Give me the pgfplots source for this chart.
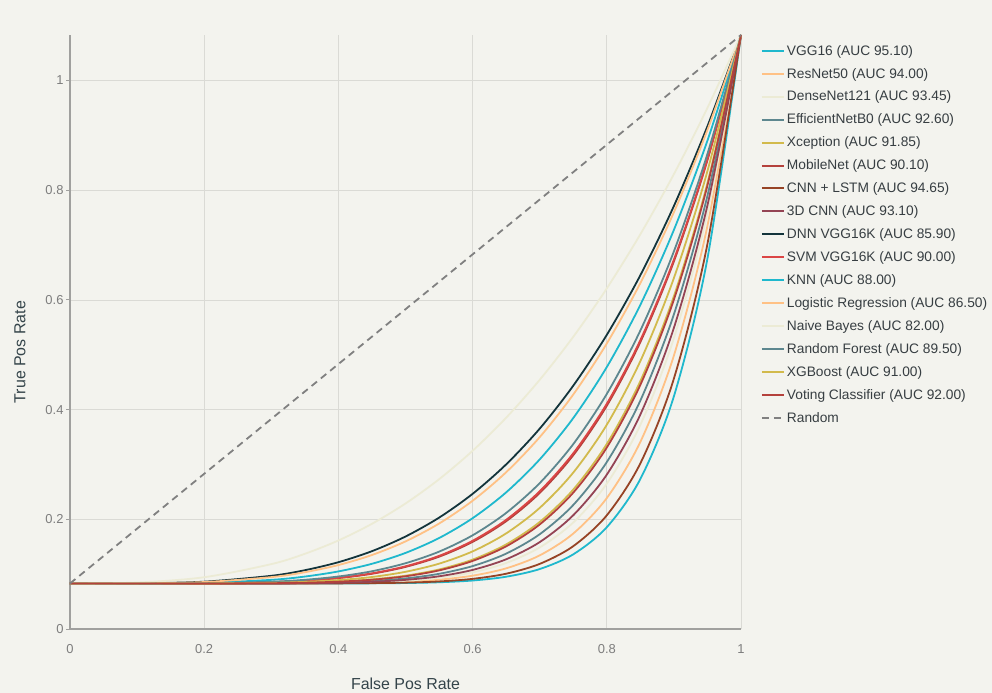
\documentclass[border=0pt]{standalone}
\usepackage{fontspec}
\setmainfont{Liberation Sans}
\usepackage{pgfplots}
\pgfplotsset{compat=1.18}
\definecolor{bgcol}{RGB}{243,243,238}
\definecolor{gridcol}{RGB}{218,218,213}
\definecolor{axcol}{RGB}{160,160,158}
\definecolor{tickcol}{RGB}{125,125,125}
\definecolor{labcol}{RGB}{52,68,74}
\definecolor{legcol}{RGB}{55,62,66}
\definecolor{c1}{HTML}{1FB8CD}
\definecolor{c2}{HTML}{FFC185}
\definecolor{c3}{HTML}{ECEBD5}
\definecolor{c4}{HTML}{5D878F}
\definecolor{c5}{HTML}{D2BA4C}
\definecolor{c6}{HTML}{B4413C}
\definecolor{c7}{HTML}{964325}
\definecolor{c8}{HTML}{944454}
\definecolor{c9}{HTML}{13343B}
\definecolor{c10}{HTML}{DB4545}
\begin{document}
\begin{tikzpicture}
\fill[bgcol] (-70bp,-64bp) rectangle (922bp,629bp);
\begin{axis}[
  scale only axis, width=671bp, height=594bp,
  at={(0,0)}, anchor=south west,
  xmin=0, xmax=1, ymin=0, ymax=1.083,
  xtick={0,0.2,0.4,0.6,0.8,1}, ytick={0,0.2,0.4,0.6,0.8,1},
  axis lines*=left, axis line style={axcol, line width=1.2bp, -},
  grid=major, grid style={gridcol, line width=0.8bp},
  x tick style={draw=none}, y tick style={axcol, line width=1bp},
  tick align=outside, major tick length=4bp,
  tick label style={tickcol, font=\fontsize{13}{15}\selectfont},
  /pgf/number format/assume math mode=true,
  xticklabel style={yshift=-8bp},
  yticklabel style={xshift=1bp},
  xlabel={False Pos Rate}, ylabel={True Pos Rate},
  label style={labcol, font=\fontsize{16}{18}\selectfont},
  xlabel style={at={(axis description cs:0.5,0)}, anchor=north, inner sep=0pt, yshift=-49bp},
  ylabel style={at={(axis description cs:-0.0745,0.466)}, anchor=center, inner sep=0pt},
  clip=false,
  every axis plot/.append style={line width=1.8bp, smooth},
  legend cell align=left,
  legend style={at={(1.025,0.99)}, anchor=north west, draw=none, fill=none,
    font=\fontsize{13.8}{16}\selectfont, text=legcol, row sep=7.5bp},
  legend image code/.code={\draw[#1, line width=2bp, sharp plot] (0bp,0bp) -- (22bp,0bp);},
]
% VGG16
\addplot[c1] coordinates {(0,0.083) (0.4,0.083) (0.45,0.0833) (0.5,0.0838) (0.55,0.0852) (0.6,0.0884) (0.65,0.0953) (0.7,0.1093) (0.75,0.1361) (0.8,0.1856) (0.85,0.2735) (0.9,0.4243) (0.95,0.6755) (1,1.083)};
\addlegendentry{VGG16 (AUC 95.10)}
% ResNet50
\addplot[c2] coordinates {(0,0.083) (0.3,0.083) (0.4,0.0835) (0.45,0.0843) (0.5,0.0861) (0.55,0.0899) (0.6,0.0972) (0.65,0.1106) (0.7,0.1342) (0.75,0.1740) (0.8,0.2388) (0.85,0.3411) (0.9,0.4986) (0.95,0.7352) (1,1.083)};
\addlegendentry{ResNet50 (AUC 94.00)}
% DenseNet121
\addplot[c3] coordinates {(0,0.083) (0.3,0.083) (0.4,0.0839) (0.45,0.0853) (0.5,0.0880) (0.55,0.0934) (0.6,0.1032) (0.65,0.1203) (0.7,0.1487) (0.75,0.1942) (0.8,0.2651) (0.85,0.3722) (0.9,0.5304) (0.95,0.7590) (1,1.083)};
\addlegendentry{DenseNet121 (AUC 93.45)}
% EfficientNetB0
\addplot[c4] coordinates {(0,0.083) (0.3,0.083) (0.4,0.0850) (0.45,0.0875) (0.5,0.0922) (0.55,0.1006) (0.6,0.1147) (0.65,0.1374) (0.7,0.1728) (0.75,0.2261) (0.8,0.3044) (0.85,0.4165) (0.9,0.5737) (0.95,0.7901) (1,1.083)};
\addlegendentry{EfficientNetB0 (AUC 92.60)}
% Xception
\addplot[c5] coordinates {(0,0.083) (0.2,0.083) (0.3,0.0836) (0.35,0.0846) (0.4,0.0866) (0.45,0.0905) (0.5,0.0972) (0.55,0.1085) (0.6,0.1265) (0.65,0.1542) (0.7,0.1951) (0.75,0.2542) (0.8,0.3374) (0.85,0.4520) (0.9,0.6069) (0.95,0.8130) (1,1.083)};
\addlegendentry{Xception (AUC 91.85)}
% MobileNet
\addplot[c6] coordinates {(0,0.083) (0.1,0.083) (0.2,0.0833) (0.3,0.0853) (0.35,0.0880) (0.4,0.0928) (0.45,0.1007) (0.5,0.1132) (0.55,0.1318) (0.6,0.1588) (0.65,0.1965) (0.7,0.2480) (0.75,0.3168) (0.8,0.4070) (0.85,0.5231) (0.9,0.6703) (0.95,0.8548) (1,1.083)};
\addlegendentry{MobileNet (AUC 90.10)}
% CNN + LSTM
\addplot[c7] coordinates {(0,0.083) (0.3,0.083) (0.4,0.0832) (0.45,0.0836) (0.5,0.0845) (0.55,0.0867) (0.6,0.0914) (0.65,0.1008) (0.7,0.1187) (0.75,0.1510) (0.8,0.2073) (0.85,0.3020) (0.9,0.4566) (0.95,0.7022) (1,1.083)};
\addlegendentry{CNN + LSTM (AUC 94.65)}
% 3D CNN
\addplot[c8] coordinates {(0,0.083) (0.3,0.083) (0.4,0.0843) (0.45,0.0861) (0.5,0.0896) (0.55,0.0961) (0.6,0.1077) (0.65,0.1271) (0.7,0.1584) (0.75,0.2074) (0.8,0.2815) (0.85,0.3910) (0.9,0.5491) (0.95,0.7726) (1,1.083)};
\addlegendentry{3D CNN (AUC 93.10)}
% DNN VGG16K
\addplot[c9] coordinates {(0,0.083) (0.1,0.0833) (0.2,0.0863) (0.3,0.0970) (0.35,0.1072) (0.4,0.1218) (0.45,0.1419) (0.5,0.1686) (0.55,0.2030) (0.6,0.2464) (0.65,0.3001) (0.7,0.3653) (0.75,0.4436) (0.8,0.5363) (0.85,0.6450) (0.9,0.7713) (0.95,0.9167) (1,1.083)};
\addlegendentry{DNN VGG16K (AUC 85.90)}
% SVM VGG16K
\addplot[c10] coordinates {(0,0.083) (0.1,0.083) (0.2,0.0833) (0.3,0.0854) (0.35,0.0883) (0.4,0.0932) (0.45,0.1015) (0.5,0.1143) (0.55,0.1333) (0.6,0.1608) (0.65,0.1990) (0.7,0.2511) (0.75,0.3203) (0.8,0.4107) (0.85,0.5267) (0.9,0.6735) (0.95,0.8568) (1,1.083)};
\addlegendentry{SVM VGG16K (AUC 90.00)}
% KNN
\addplot[c1] coordinates {(0,0.083) (0.1,0.083) (0.2,0.0842) (0.3,0.0896) (0.35,0.0956) (0.4,0.1050) (0.45,0.1189) (0.5,0.1387) (0.55,0.1658) (0.6,0.2020) (0.65,0.2491) (0.7,0.3092) (0.75,0.3846) (0.8,0.4776) (0.85,0.5910) (0.9,0.7277) (0.95,0.8906) (1,1.083)};
\addlegendentry{KNN (AUC 88.00)}
% Logistic Regression
\addplot[c2] coordinates {(0,0.083) (0.1,0.0832) (0.2,0.0856) (0.3,0.0946) (0.35,0.1035) (0.4,0.1166) (0.45,0.1349) (0.5,0.1597) (0.55,0.1922) (0.6,0.2338) (0.65,0.2858) (0.7,0.3498) (0.75,0.4275) (0.8,0.5206) (0.85,0.6307) (0.9,0.7599) (0.95,0.9100) (1,1.083)};
\addlegendentry{Logistic Regression (AUC 86.50)}
% Naive Bayes
\addplot[c3] coordinates {(0,0.083) (0.1,0.0847) (0.2,0.0944) (0.3,0.1183) (0.35,0.1371) (0.4,0.1614) (0.45,0.1918) (0.5,0.2288) (0.55,0.2730) (0.6,0.3249) (0.65,0.3852) (0.7,0.4543) (0.75,0.5327) (0.8,0.6210) (0.85,0.7197) (0.9,0.8293) (0.95,0.9502) (1,1.083)};
\addlegendentry{Naive Bayes (AUC 82.00)}
% Random Forest
\addplot[c4] coordinates {(0,0.083) (0.1,0.083) (0.2,0.0835) (0.3,0.0862) (0.35,0.0897) (0.4,0.0957) (0.45,0.1053) (0.5,0.1199) (0.55,0.1410) (0.6,0.1708) (0.65,0.2116) (0.7,0.2660) (0.75,0.3371) (0.8,0.4286) (0.85,0.5442) (0.9,0.6885) (0.95,0.8663) (1,1.083)};
\addlegendentry{Random Forest (AUC 89.50)}
% XGBoost
\addplot[c5] coordinates {(0,0.083) (0.2,0.0831) (0.3,0.0842) (0.35,0.0859) (0.4,0.0892) (0.45,0.0948) (0.5,0.1043) (0.55,0.1191) (0.6,0.1415) (0.65,0.1743) (0.7,0.2208) (0.75,0.2852) (0.8,0.3724) (0.85,0.4884) (0.9,0.6399) (0.95,0.8350) (1,1.083)};
\addlegendentry{XGBoost (AUC 91.00)}
% Voting Classifier
\addplot[c6] coordinates {(0,0.083) (0.2,0.083) (0.3,0.0835) (0.35,0.0844) (0.4,0.0863) (0.45,0.0898) (0.5,0.0961) (0.55,0.1068) (0.6,0.1241) (0.65,0.1507) (0.7,0.1906) (0.75,0.2486) (0.8,0.3309) (0.85,0.4451) (0.9,0.6006) (0.95,0.8087) (1,1.083)};
\addlegendentry{Voting Classifier (AUC 92.00)}
% Random
\addplot[gray, line width=1.8bp, dash pattern=on 7bp off 5bp, sharp plot] coordinates {(0,0.083) (1,1.083)};
\addlegendentry{Random}
\end{axis}
\pgfresetboundingbox
\useasboundingbox (-70bp,-64bp) rectangle (922bp,629bp);
\end{tikzpicture}
\end{document}
